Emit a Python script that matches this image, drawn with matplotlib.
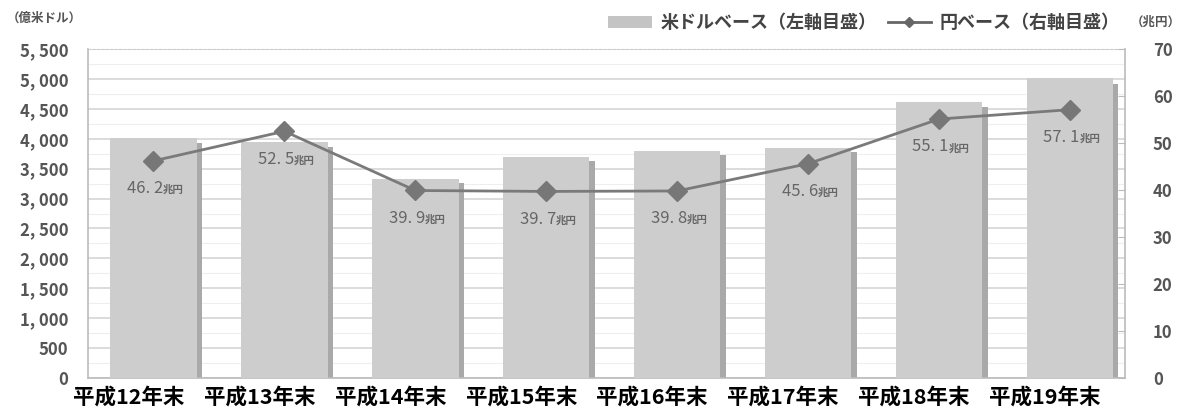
import matplotlib.pyplot as plt
import matplotlib.transforms as mtransforms
from matplotlib.patches import Patch
from matplotlib.lines import Line2D

plt.rcParams['font.family'] = ['Noto Sans CJK JP', 'DejaVu Sans']

years = ["平成12年末", "平成13年末", "平成14年末", "平成15年末",
         "平成16年末", "平成17年末", "平成18年末", "平成19年末"]
usd_base = [4010, 3940, 3330, 3700, 3800, 3850, 4615, 5015]   # 億米ドル
yen_base = [46.2, 52.5, 39.9, 39.7, 39.8, 45.6, 55.1, 57.1]    # 兆円
yen_labels = ["46. 2", "52. 5", "39. 9", "39. 7", "39. 8", "45. 6", "55. 1", "57. 1"]
left_ticks = [0, 500, 1000, 1500, 2000, 2500, 3000, 3500, 4000, 4500, 5000, 5500]
left_ticklabels = ["0", "500", "1, 000", "1, 500", "2, 000", "2, 500", "3, 000",
                   "3, 500", "4, 000", "4, 500", "5, 000", "5, 500"]
right_ticks = [0, 10, 20, 30, 40, 50, 60, 70]

fig = plt.figure(figsize=(11.86, 4.12), dpi=100)
ax = fig.add_axes([0.0742, 0.0825, 0.8744, 0.7985])
x = list(range(len(years)))

gray_txt = "#555555"
bar_w = 0.66
# shadow on the right edge of each bar
ax.bar([i + 0.04 for i in x], [v * 0.98 for v in usd_base], width=bar_w,
       color="#a9a9a9", zorder=2)
ax.bar(x, usd_base, width=bar_w, color="#cdcdcd", zorder=3)

ax.set_ylim(0, 5500)
ax.set_xlim(-0.5, 7.42)
ax.set_yticks(left_ticks)
ax.set_yticklabels(left_ticklabels, fontsize=12, color=gray_txt, fontweight="bold")
ax.set_yticks(range(0, 5500, 250), minor=True)
ax.grid(axis="y", which="major", color="#d6d6d6", linewidth=1.2, zorder=0)
ax.grid(axis="y", which="minor", color="#eeeeee", linewidth=0.8, zorder=0)
ax.tick_params(axis="y", which="both", length=0, pad=14)
ax.set_xticks(x)
ax.set_xticklabels(years, fontsize=15.5, fontweight="bold", color="black")
ax.tick_params(axis="x", length=0, pad=6)
offset = mtransforms.ScaledTranslation(-0.25, 0, fig.dpi_scale_trans)
for lab in ax.get_xticklabels():
    lab.set_transform(lab.get_transform() + offset)

for side in ["left", "bottom", "right"]:
    ax.spines[side].set_color("#bbbbbb")
    ax.spines[side].set_linewidth(1.2)
ax.spines["top"].set_color("#cccccc")
ax.spines["top"].set_linestyle((0, (2, 2)))

ax2 = ax.twinx()
ax2.set_ylim(0, 70)
ax2.set_yticks(right_ticks)
ax2.set_yticklabels([str(t) for t in right_ticks], fontsize=12, color=gray_txt,
                    fontweight="bold")
ax2.tick_params(axis="y", direction="in", length=5, color="#bbbbbb", pad=20)
for s in ax2.spines.values():
    s.set_visible(False)
ax2.plot(x, yen_base, color="#7a7a7a", linewidth=2, marker="D", markersize=10,
         markerfacecolor="#777777", markeredgecolor="#777777", zorder=5)

for i, v in enumerate(yen_base):
    ax2.annotate(yen_labels[i], (i, v), xytext=(7, -20), textcoords="offset points",
                 ha="right", va="center", fontsize=12, color="#666666")
    ax2.annotate("兆円", (i, v), xytext=(7, -21), textcoords="offset points",
                 ha="left", va="center", fontsize=7.5, color="#666666",
                 fontweight="bold")

handles = [Patch(facecolor="#c4c4c4", edgecolor="none"),
           Line2D([0], [0], color="#666666", linewidth=2, marker="D", markersize=5)]
fig.legend(handles, ["米ドルベース（左軸目盛）", "円ベース（右軸目盛）"],
           loc="center right", bbox_to_anchor=(0.958, 0.945), ncol=2, frameon=False,
           prop={"size": 13, "weight": "bold"}, labelcolor="#444444",
           handlelength=2.4, columnspacing=0.6, handletextpad=0.5)
fig.text(0.006, 0.955, "（億米ドル）", fontsize=9, color=gray_txt, fontweight="bold",
         va="center")
fig.text(0.953, 0.945, "（兆円）", fontsize=9, color=gray_txt, fontweight="bold",
         va="center")

fig.savefig("out.png", dpi=100)
